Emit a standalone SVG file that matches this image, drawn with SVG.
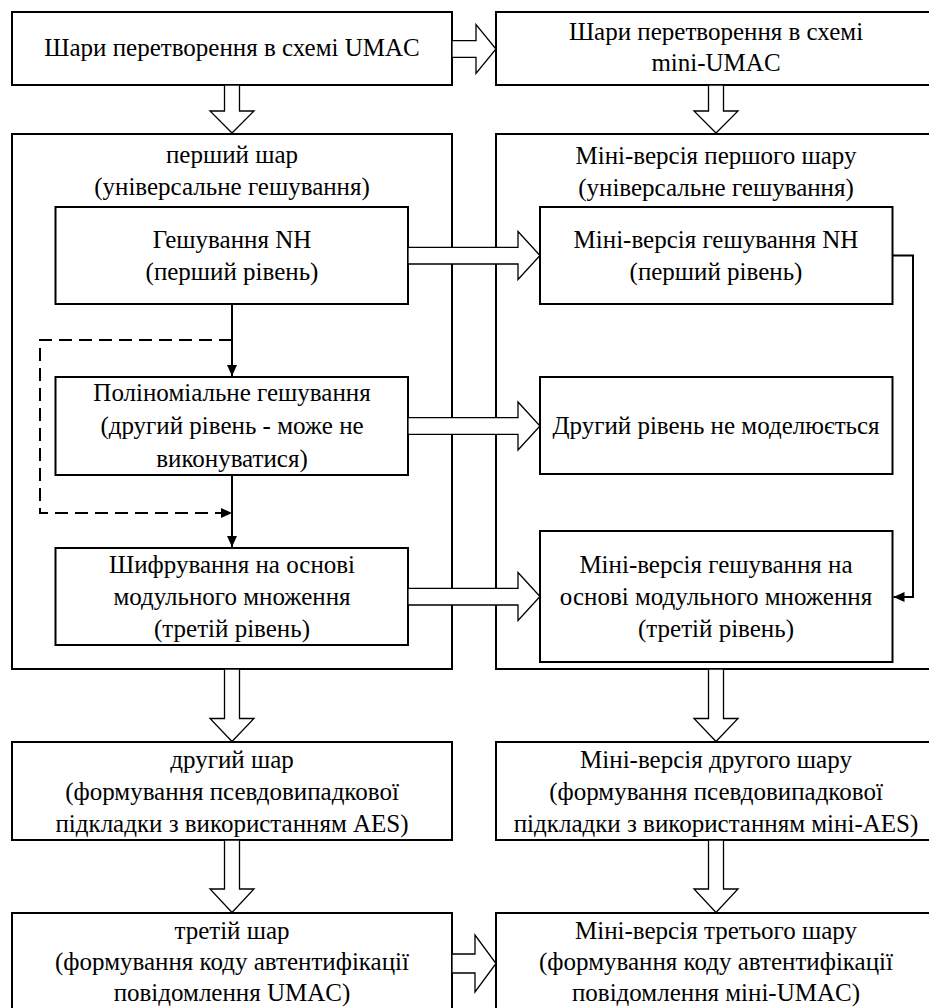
<svg xmlns="http://www.w3.org/2000/svg" width="929" height="1008" viewBox="0 0 929 1008">
<style>
  .box { fill: #fff; stroke: #000; stroke-width: 2; }
  .hollow { fill: #fff; stroke: #000; stroke-width: 1.3; stroke-linejoin: miter; }
  .line { fill: none; stroke: #000; stroke-width: 2; }
  .dash { fill: none; stroke: #000; stroke-width: 2; stroke-dasharray: 13 7; }
</style>
<defs>
  <marker id="ah" viewBox="0 0 11 10" refX="11" refY="5" markerWidth="11" markerHeight="10" markerUnits="userSpaceOnUse" orient="auto">
    <path d="M0,0 L11,5 L0,10 Z" fill="#000"/>
  </marker>
</defs>
<rect width="929" height="1008" fill="#fff"/>

<g font-family="Liberation Serif, Times New Roman, serif" font-size="25" text-anchor="middle" fill="#000">
<g id="n-umac-layers">
  <rect class="box" x="12" y="12" width="440" height="73"/>
  <text x="232" y="56">Шари перетворення в схемі UMAC</text>
</g>
<g id="n-mini-umac-layers">
  <rect class="box" x="496" y="12" width="440" height="73"/>
  <text x="716" y="40">Шари перетворення в схемі</text>
  <text x="716" y="71">mini-UMAC</text>
</g>

<g id="n-layer1">
  <rect class="box" x="12" y="134" width="440" height="535"/>
  <text x="232" y="163">перший шар</text>
  <text x="232" y="195">(універсальне гешування)</text>
</g>
<g id="n-mini-layer1">
  <rect class="box" x="496" y="134" width="440" height="535"/>
  <text x="716" y="164">Міні-версія першого шару</text>
  <text x="716" y="196">(універсальне гешування)</text>
</g>

<g id="n-nh">
  <rect class="box" x="55.5" y="207" width="352.5" height="97"/>
  <text x="232" y="248">Гешування NH</text>
  <text x="232" y="280">(перший рівень)</text>
</g>
<g id="n-poly">
  <rect class="box" x="55.5" y="377" width="352.5" height="98"/>
  <text x="232" y="401">Поліноміальне гешування</text>
  <text x="232" y="434">(другий рівень - може не</text>
  <text x="232" y="467">виконуватися)</text>
</g>
<g id="n-enc">
  <rect class="box" x="55.5" y="548" width="352.5" height="97"/>
  <text x="232" y="573">Шифрування на основі</text>
  <text x="232" y="605">модульного множення</text>
  <text x="232" y="637">(третій рівень)</text>
</g>

<g id="n-mini-nh">
  <rect class="box" x="540" y="207" width="352.5" height="97"/>
  <text x="716" y="248">Міні-версія гешування NH</text>
  <text x="716" y="280">(перший рівень)</text>
</g>
<g id="n-no-level2">
  <rect class="box" x="540" y="377" width="352.5" height="97"/>
  <text x="716" y="434">Другий рівень не моделюється</text>
</g>
<g id="n-mini-mod">
  <rect class="box" x="540" y="531" width="352.5" height="131"/>
  <text x="716" y="573">Міні-версія гешування на</text>
  <text x="716" y="605">основі модульного множення</text>
  <text x="716" y="637">(третій рівень)</text>
</g>

<g id="n-layer2">
  <rect class="box" x="12" y="742" width="440" height="98"/>
  <text x="232" y="768">другий шар</text>
  <text x="232" y="800">(формування псевдовипадкової</text>
  <text x="232" y="832">підкладки з використанням AES)</text>
</g>
<g id="n-mini-layer2">
  <rect class="box" x="496" y="742" width="440" height="98"/>
  <text x="716" y="768">Міні-версія другого шару</text>
  <text x="716" y="800">(формування псевдовипадкової</text>
  <text x="716" y="832">підкладки з використанням міні-AES)</text>
</g>

<g id="n-layer3">
  <rect class="box" x="12" y="913" width="440" height="100"/>
  <text x="232" y="939">третій шар</text>
  <text x="232" y="970">(формування коду автентифікації</text>
  <text x="232" y="1001">повідомлення UMAC)</text>
</g>
<g id="n-mini-layer3">
  <rect class="box" x="496" y="913" width="440" height="100"/>
  <text x="716" y="939">Міні-версія третього шару</text>
  <text x="716" y="970">(формування коду автентифікації</text>
  <text x="716" y="1001">повідомлення міні-UMAC)</text>
</g>
</g>

<g id="connectors">
  <path class="hollow" d="M452,40.7 H476 V24.5 L496,49 L476,73.5 V57.3 H452 Z"/>
  <path class="hollow" d="M408,247.3 H518 V231.5 L540,255.5 L518,279.5 V264 H408 Z"/>
  <path class="hollow" d="M408,417.7 H518 V402 L540,426 L518,450 V434.3 H408 Z"/>
  <path class="hollow" d="M408,588.3 H518 V572.5 L540,596.5 L518,620.5 V605 H408 Z"/>
  <path class="hollow" d="M452,954 H475 V935 L496,963.5 L475,992 V973 H452 Z"/>
  <path class="hollow" d="M224.5,85 V111 H210 L232,133 L254,111 H239.5 V85 Z"/>
  <path class="hollow" d="M708.5,85 V111 H694 L716,133 L738,111 H723.5 V85 Z"/>
  <path class="hollow" d="M224.5,669 V718.5 H210 L232,741.5 L254,718.5 H239.5 V669 Z"/>
  <path class="hollow" d="M708.5,669 V718.5 H694 L716,741.5 L738,718.5 H723.5 V669 Z"/>
  <path class="hollow" d="M224.5,840 V889 H210 L232,912.5 L254,889 H239.5 V840 Z"/>
  <path class="hollow" d="M708.5,840 V889 H694 L716,912.5 L738,889 H723.5 V840 Z"/>
  <path class="line" d="M232,304 V376" marker-end="url(#ah)"/>
  <path class="line" d="M232,475 V547" marker-end="url(#ah)"/>
  <path class="dash" d="M232,340 H40 V513 H232" marker-end="url(#ah)"/>
  <path class="line" d="M892.5,255.5 H913 V597 H893.5" marker-end="url(#ah)"/>
</g>
</svg>
